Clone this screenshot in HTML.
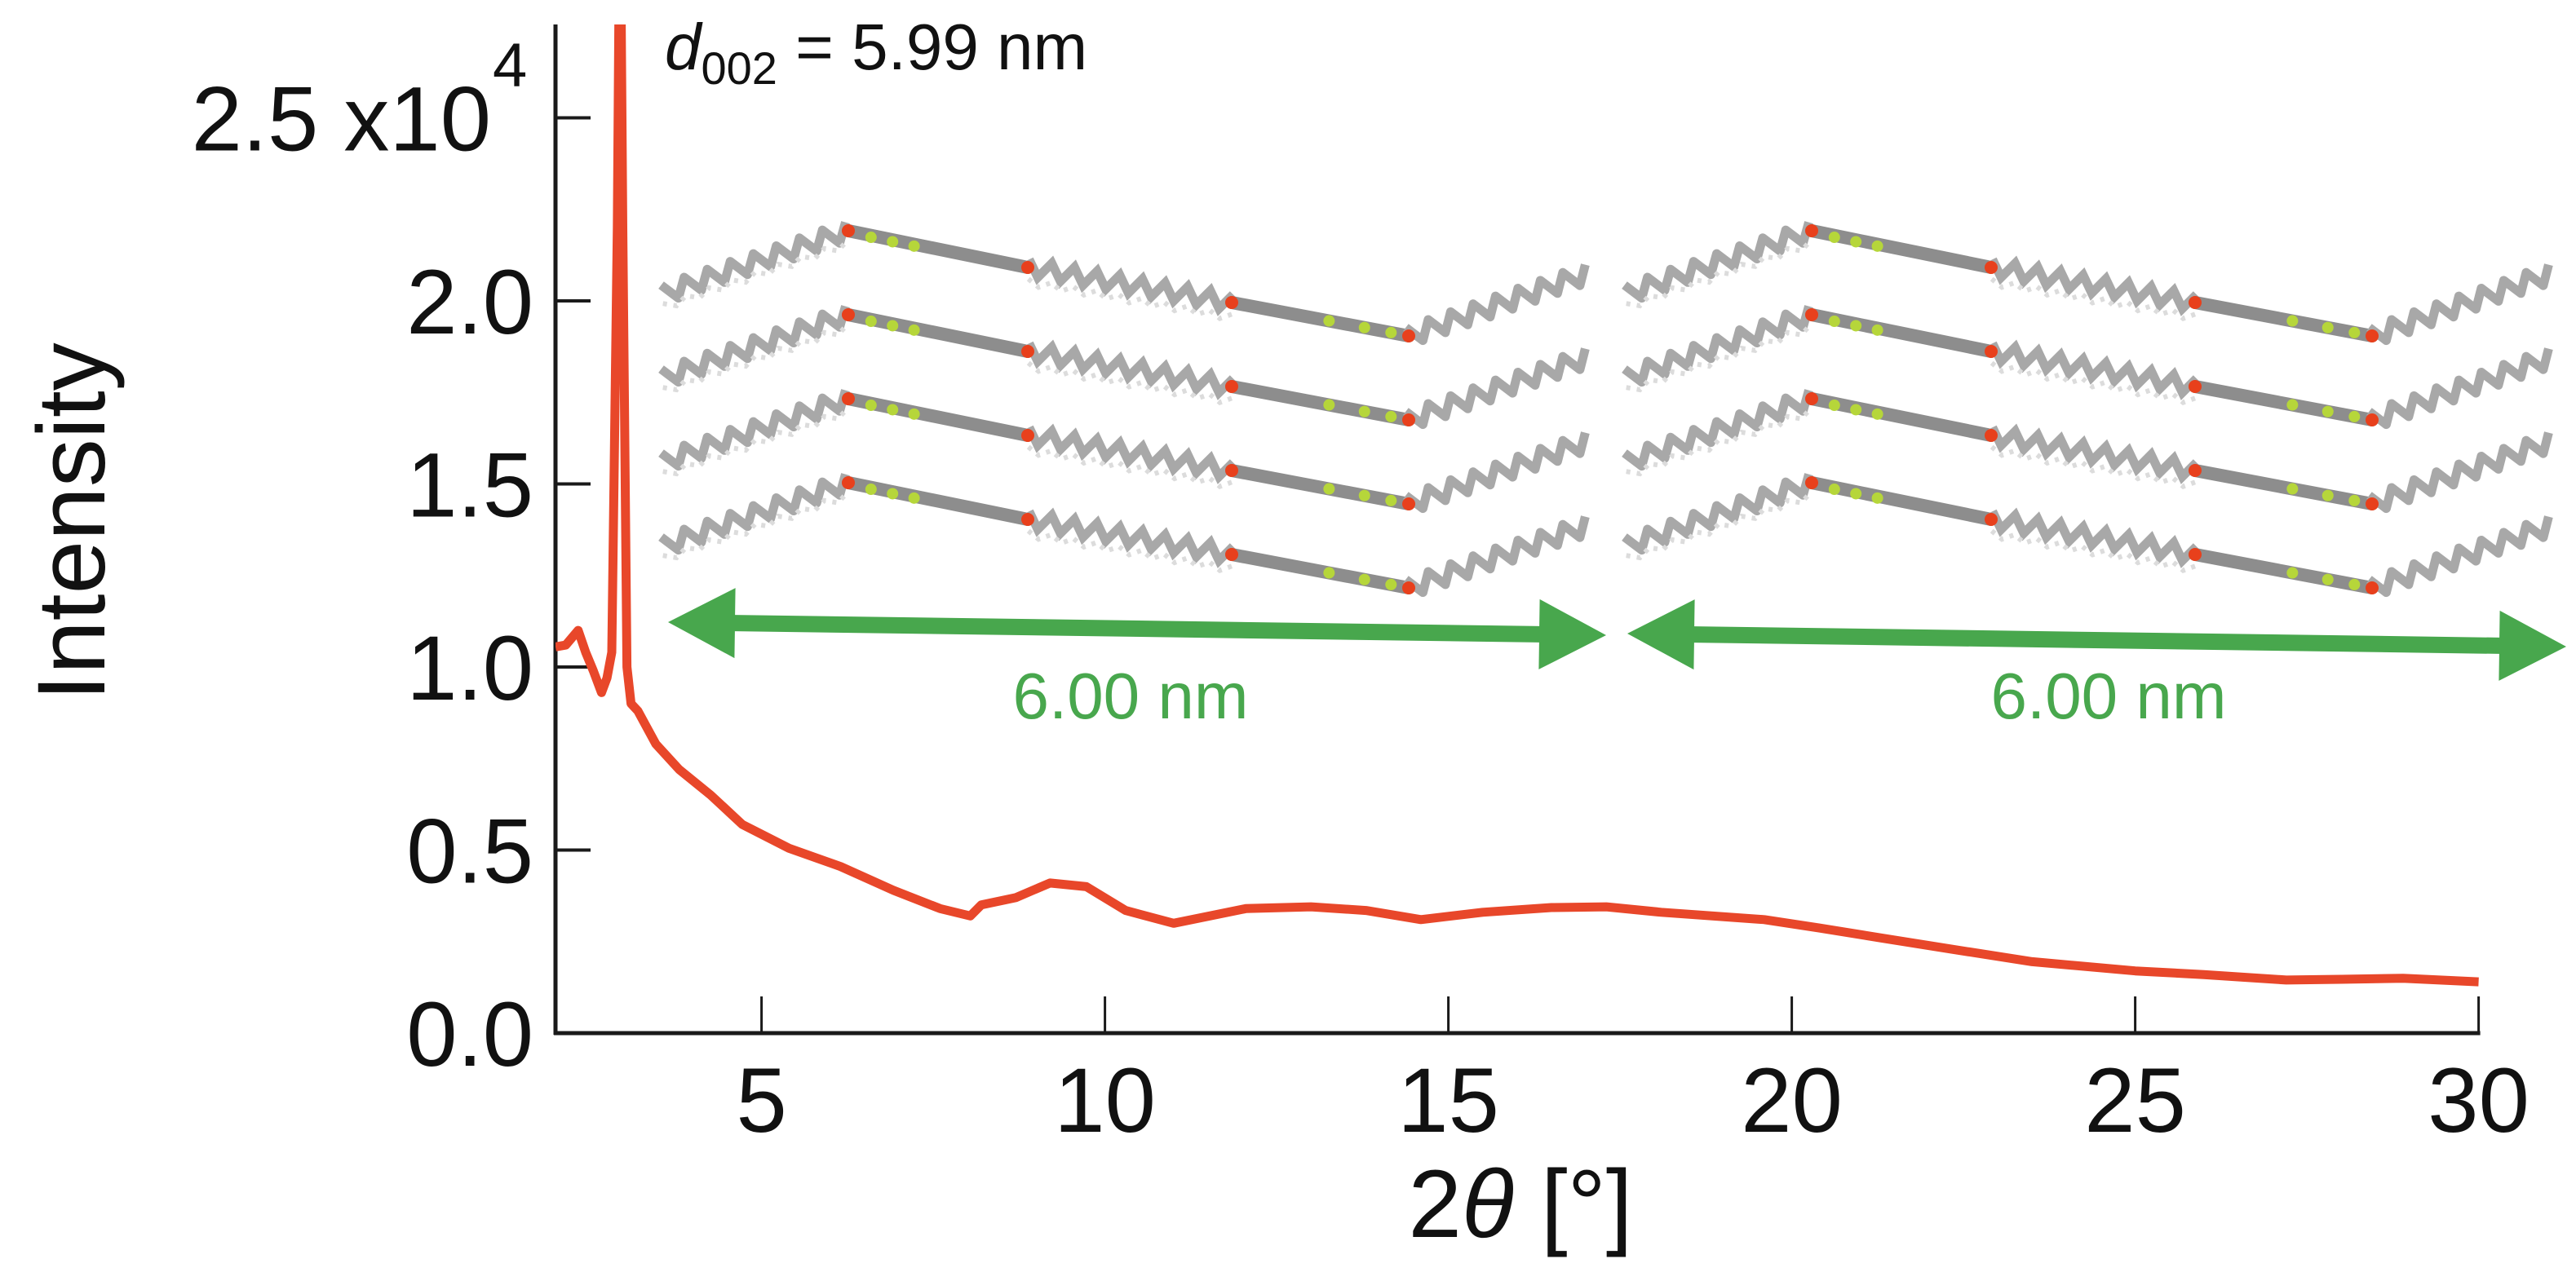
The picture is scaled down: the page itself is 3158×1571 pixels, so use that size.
<!DOCTYPE html>
<html><head><meta charset="utf-8"><style>
html,body{margin:0;padding:0;background:#fff;}
svg{display:block;}
text{font-family:"Liberation Sans",Arial,sans-serif;}
</style></head><body>
<svg id="chart" width="3158" height="1571" viewBox="0 0 3158 1571" xmlns="http://www.w3.org/2000/svg">
<g id="molecules"></g>
<g id="axes"></g>
<g id="annot"></g>
<g id="series"></g>
</svg>
<script>
const xTicks = [5, 10, 15, 20, 25, 30];
const xTickLabels = ["5", "10", "15", "20", "25", "30"];
const yTicks = [0, 0.5, 1.0, 1.5, 2.0, 2.5];
const yTickLabels = ["0.0", "0.5", "1.0", "1.5", "2.0", "2.5"];
const twoTheta = [2.0, 2.15, 2.33, 2.44, 2.55, 2.67, 2.75, 2.82, 2.9, 2.94, 2.98, 3.04, 3.1, 3.2, 3.46, 3.8, 4.26, 4.72, 5.4, 6.15, 6.92, 7.6, 8.04, 8.2, 8.7, 9.2, 9.73, 10.3, 11.0, 12.05, 13.0, 13.8, 14.6, 15.5, 16.5, 17.3, 18.1, 19.6, 20.4, 21.3, 22.3, 23.5, 25.0, 26.0, 27.2, 28.0, 28.9, 30.0];
const intensity = [1.055, 1.06, 1.10, 1.04, 0.99, 0.93, 0.97, 1.04, 2.2, 3.2, 2.2, 1.0, 0.9, 0.88, 0.79, 0.72, 0.65, 0.57, 0.505, 0.455, 0.39, 0.34, 0.32, 0.35, 0.37, 0.41, 0.40, 0.335, 0.30, 0.34, 0.345, 0.335, 0.31, 0.33, 0.343, 0.345, 0.33, 0.31, 0.287, 0.26, 0.23, 0.195, 0.17, 0.16, 0.145, 0.147, 0.15, 0.14];

const NS = "http://www.w3.org/2000/svg";
const X0 = 681, XPU = 84.2, XMIN = 2, Y0 = 1267, YPU = 449, YTOP = 30;
function xs(v){ return X0 + (v - XMIN) * XPU; }
function ys(v){ return Y0 - v * YPU; }
function mk(tag, attrs, parent){ const e = document.createElementNS(NS, tag); for (const k in attrs) e.setAttribute(k, attrs[k]); parent.appendChild(e); return e; }

// molecules (decorative)
const mol = document.getElementById('molecules');
function zig(x1,y1,x2,y2,n,amp){ let d=''; const dx=(x2-x1)/n, dy=(y2-y1)/n; const L=Math.hypot(x2-x1,y2-y1); const nx=-(y2-y1)/L, ny=(x2-x1)/L;
  for(let i=0;i<=n;i++){ const s=(i%2?amp:-amp); d+=(i?'L':'M')+(x1+dx*i+nx*s).toFixed(1)+','+(y1+dy*i+ny*s).toFixed(1); } return d; }
[0, 1181].forEach((sx) => {
  for (let r = 0; r < 4; r++) {
    const oy = r * 103;
    const P = [[814+sx,360+oy],[1040+sx,283+oy],[1260+sx,328+oy],[1510+sx,371+oy],[1727+sx,412+oy],[1947+sx,335+oy]];
    const g = mk('g', {}, mol);
    
    
    mk('path', {d: zig(P[0][0],P[0][1],P[1][0],P[1][1],16,11), stroke:'#a8a8a8','stroke-width':11,fill:'none','stroke-linejoin':'round'}, g);
    mk('path', {d: zig(P[0][0],P[0][1]+16,P[1][0],P[1][1]+16,16,4), stroke:'#dcdcdc','stroke-width':6,fill:'none','stroke-dasharray':'5 8'}, g);
    mk('line', {x1:P[1][0],y1:P[1][1],x2:P[2][0],y2:P[2][1],stroke:'#8d8d8d','stroke-width':16,'stroke-linecap':'round'}, g);
    mk('path', {d: zig(P[2][0],P[2][1],P[3][0],P[3][1],18,10), stroke:'#a8a8a8','stroke-width':11,fill:'none'}, g);
    mk('path', {d: zig(P[2][0],P[2][1]+18,P[3][0],P[3][1]+18,18,4), stroke:'#dcdcdc','stroke-width':6,fill:'none','stroke-dasharray':'5 8'}, g);
    mk('line', {x1:P[3][0],y1:P[3][1],x2:P[4][0],y2:P[4][1],stroke:'#8d8d8d','stroke-width':16,'stroke-linecap':'round'}, g);
    mk('path', {d: zig(P[4][0],P[4][1],P[5][0],P[5][1],16,11), stroke:'#a8a8a8','stroke-width':11,fill:'none','stroke-linejoin':'round'}, g);
    [0.15,0.35,0.55].forEach((t)=>{ mk('circle',{cx:P[1][0]+(P[2][0]-P[1][0])*t*0.6+8,cy:P[1][1]+(P[2][1]-P[1][1])*t*0.6+4,r:7,fill:'#b6d63a'},g); });
    [0.55,0.75,0.9].forEach((t)=>{ mk('circle',{cx:P[3][0]+(P[4][0]-P[3][0])*t,cy:P[3][1]+(P[4][1]-P[3][1])*t,r:7,fill:'#b6d63a'},g); });
    [1,2,3,4].forEach(i=>{ mk('circle',{cx:P[i][0],cy:P[i][1],r:8,fill:'#e8401c'},g); });
  }
});

// axes
const ax = document.getElementById('axes');
const yl = mk('line', {x1:X0,y1:YTOP,x2:X0,y2:Y0+2,stroke:'#1a1a1a','stroke-width':5}, ax);


const xl = mk('line', {x1:X0-2,y1:Y0,x2:xs(30)+2,y2:Y0,stroke:'#1a1a1a','stroke-width':5}, ax);


xTicks.forEach((v,i) => {
  const t = mk('line', {x1:xs(v),y1:Y0,x2:xs(v),y2:Y0-45,stroke:'#1a1a1a','stroke-width':3}, ax);
  
  
  const l = mk('text', {x:xs(v),y:1388,'font-size':112,'text-anchor':'middle',fill:'#111'}, ax);
  l.textContent = xTickLabels[i];
  
  
});
yTicks.forEach((v,i) => {
  if (v > 0) {
    const t = mk('line', {x1:X0,y1:ys(v),x2:X0+43,y2:ys(v),stroke:'#1a1a1a','stroke-width':4}, ax);
    
    
  }
  const l = mk('text', {x: v===2.5 ? 602 : 654, y:ys(v)+40,'font-size':112,'text-anchor':'end',fill:'#111'}, ax);
  l.textContent = yTickLabels[i] + (v===2.5 ? ' x10' : '');
  
  
});
const sup = mk('text', {x:604,y:106,'font-size':76,fill:'#111'}, ax);
sup.textContent = '4';


const yt = mk('text', {x:0,y:0,'font-size':118,'text-anchor':'middle',fill:'#111',transform:'translate(128,640) rotate(-90)'}, ax);
yt.textContent = 'Intensity';


const xt = mk('text', {x:1864,y:1517,'font-size':118,'text-anchor':'middle',fill:'#111'}, ax);
xt.innerHTML = '2<tspan font-style="italic">θ</tspan> [°]';



// annotations
const an = document.getElementById('annot');
const dt = mk('text', {x:815,y:85,'font-size':80,fill:'#111'}, an);
dt.innerHTML = '<tspan font-style="italic">d</tspan><tspan font-size="56" dy="18">002</tspan><tspan dy="-18"> = 5.99 nm</tspan>';


function arrow(x1,y1,x2,y2,name){
  const L=Math.hypot(x2-x1,y2-y1), ux=(x2-x1)/L, uy=(y2-y1)/L, nx=-uy, ny=ux, hl=82, hw=43, sw=10;
  const pts=[[x1,y1],[x1+ux*hl+nx*hw,y1+uy*hl+ny*hw],[x1+ux*hl+nx*sw,y1+uy*hl+ny*sw],[x2-ux*hl+nx*sw,y2-uy*hl+ny*sw],[x2-ux*hl+nx*hw,y2-uy*hl+ny*hw],[x2,y2],
    [x2-ux*hl-nx*hw,y2-uy*hl-ny*hw],[x2-ux*hl-nx*sw,y2-uy*hl-ny*sw],[x1+ux*hl-nx*sw,y1+uy*hl-ny*sw],[x1+ux*hl-nx*hw,y1+uy*hl-ny*hw]];
  const p = mk('polygon', {points: pts.map(q=>q[0].toFixed(1)+','+q[1].toFixed(1)).join(' '), fill:'#48a74d'}, an);
  
  
}
arrow(819,763,1969,779,'length-arrow-1');
arrow(1995,777,3146,793,'length-arrow-2');
[[1386,'length-label-1'],[2585,'length-label-2']].forEach(([x,n])=>{
  const t = mk('text', {x:x,y:881,'font-size':80,'text-anchor':'middle',fill:'#48a74d'}, an);
  t.textContent = '6.00 nm';
  
  
});

// series
const se = document.getElementById('series');
mk('clipPath', {id:'clip'}, se).appendChild(document.createElementNS(NS,'rect'));
const cr = se.querySelector('clipPath rect'); cr.setAttribute('x',X0); cr.setAttribute('y',YTOP); cr.setAttribute('width',2500); cr.setAttribute('height',Y0-YTOP);
const d = twoTheta.map((v,i)=>(i?'L':'M')+xs(v).toFixed(1)+','+ys(intensity[i]).toFixed(1)).join('');
const line = mk('path', {d:d, fill:'none', stroke:'#e8472a','stroke-width':11,'stroke-linejoin':'round','clip-path':'url(#clip)'}, se);


</script>
</body></html>
